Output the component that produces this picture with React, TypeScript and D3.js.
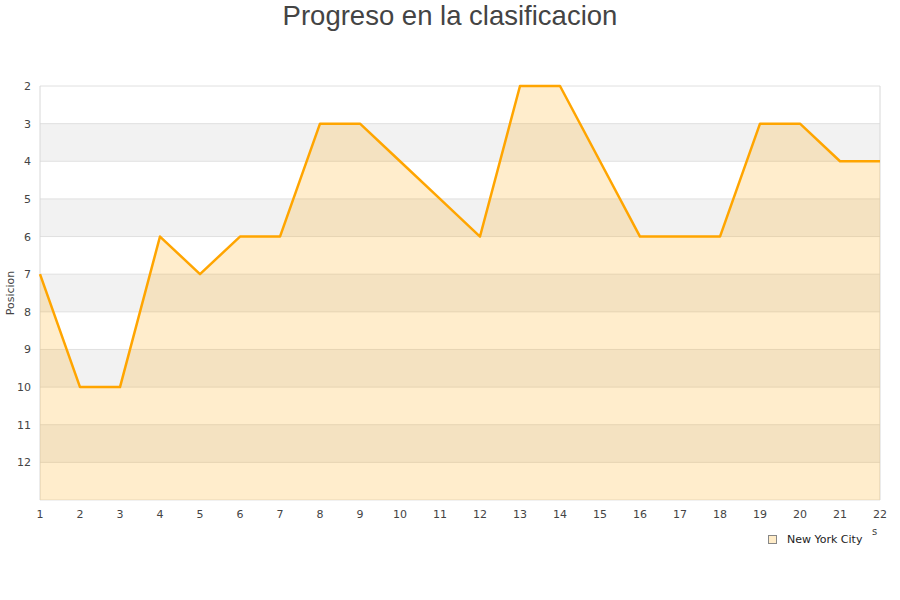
import React from "react";
import * as d3 from "d3";

const rounds: number[] = [1, 2, 3, 4, 5, 6, 7, 8, 9, 10, 11, 12, 13, 14, 15, 16, 17, 18, 19, 20, 21, 22];
const positions: number[] = [7, 10, 10, 6, 7, 6, 6, 3, 3, 4, 5, 6, 2, 2, 4, 6, 6, 6, 3, 3, 4, 4];
const rankTicks: number[] = [2, 3, 4, 5, 6, 7, 8, 9, 10, 11, 12];
const seriesName = "New York City";
const chartTitle = "Progreso en la clasificacion";
const yTitle = "Posicion";

const W = 900;
const H = 600;
const left = 40;
const right = 880;
const top = 86;
const bottom = 500;

export default function App() {
  const x = d3.scaleLinear().domain([1, 22]).range([left, right]);
  const y = d3.scaleLinear().domain([2, 13]).range([top, bottom]);

  const data = rounds.map((r, i) => ({ r, p: positions[i] }));
  const line = d3.line<{ r: number; p: number }>().x((d) => x(d.r)).y((d) => y(d.p));
  const area = d3
    .area<{ r: number; p: number }>()
    .x((d) => x(d.r))
    .y0(bottom)
    .y1((d) => y(d.p));

  // alternating horizontal bands, shaded between odd->even ranks
  const bands: number[] = [3, 5, 7, 9, 11];

  return (
    <svg width={W} height={H} style={{ display: "block", position: "absolute", left: 0, top: 0 }}>
      <rect x={0} y={0} width={W} height={H} fill="#ffffff" />
      <text
        x={450}
        y={25}
        textAnchor="middle"
        fontFamily="Liberation Sans, Arial, sans-serif"
        fontSize={27.5}
        fill="#444444"
      >
        {chartTitle}
      </text>

      {bands.map((b) => (
        <rect key={b} x={left} y={y(b)} width={right - left} height={y(b + 1) - y(b)} fill="#f2f2f2" />
      ))}
      {rankTicks.map((t) => (
        <line key={t} x1={left} x2={right} y1={y(t)} y2={y(t)} stroke="#e0e0e0" strokeWidth={1} />
      ))}
      <line x1={left} x2={left} y1={top} y2={bottom} stroke="#d8d8d8" strokeWidth={1} />
      <line x1={right} x2={right} y1={top} y2={bottom} stroke="#d8d8d8" strokeWidth={1} />
      <line x1={left} x2={right} y1={bottom} y2={bottom} stroke="#e4e4e4" strokeWidth={1} />

      <path d={area(data) || ""} fill="rgba(255,165,0,0.2)" />
      <path d={line(data) || ""} fill="none" stroke="#ffa500" strokeWidth={2.5} strokeLinejoin="round" />

      {rankTicks.map((t) => (
        <text
          key={t}
          x={31}
          y={y(t) + 4}
          textAnchor="end"
          fontFamily="DejaVu Sans, sans-serif"
          fontSize={11}
          fill="#444444"
        >
          {t}
        </text>
      ))}
      {rounds.map((r) => (
        <text
          key={r}
          x={x(r)}
          y={518}
          textAnchor="middle"
          fontFamily="DejaVu Sans, sans-serif"
          fontSize={11}
          fill="#444444"
        >
          {r}
        </text>
      ))}
      <text
        transform={`translate(14,293) rotate(-90)`}
        textAnchor="middle"
        fontFamily="DejaVu Sans, sans-serif"
        fontSize={11}
        fill="#444444"
      >
        {yTitle}
      </text>
      <text x={872} y={535} fontFamily="DejaVu Sans, sans-serif" fontSize={10} fill="#444444">
        s
      </text>

      <rect x={768.5} y={535.5} width={8} height={8} fill="#ffecc8" stroke="#888888" strokeWidth={1} />
      <text x={787} y={543} fontFamily="DejaVu Sans, sans-serif" fontSize={11} fill="#222222">
        {seriesName}
      </text>
    </svg>
  );
}
